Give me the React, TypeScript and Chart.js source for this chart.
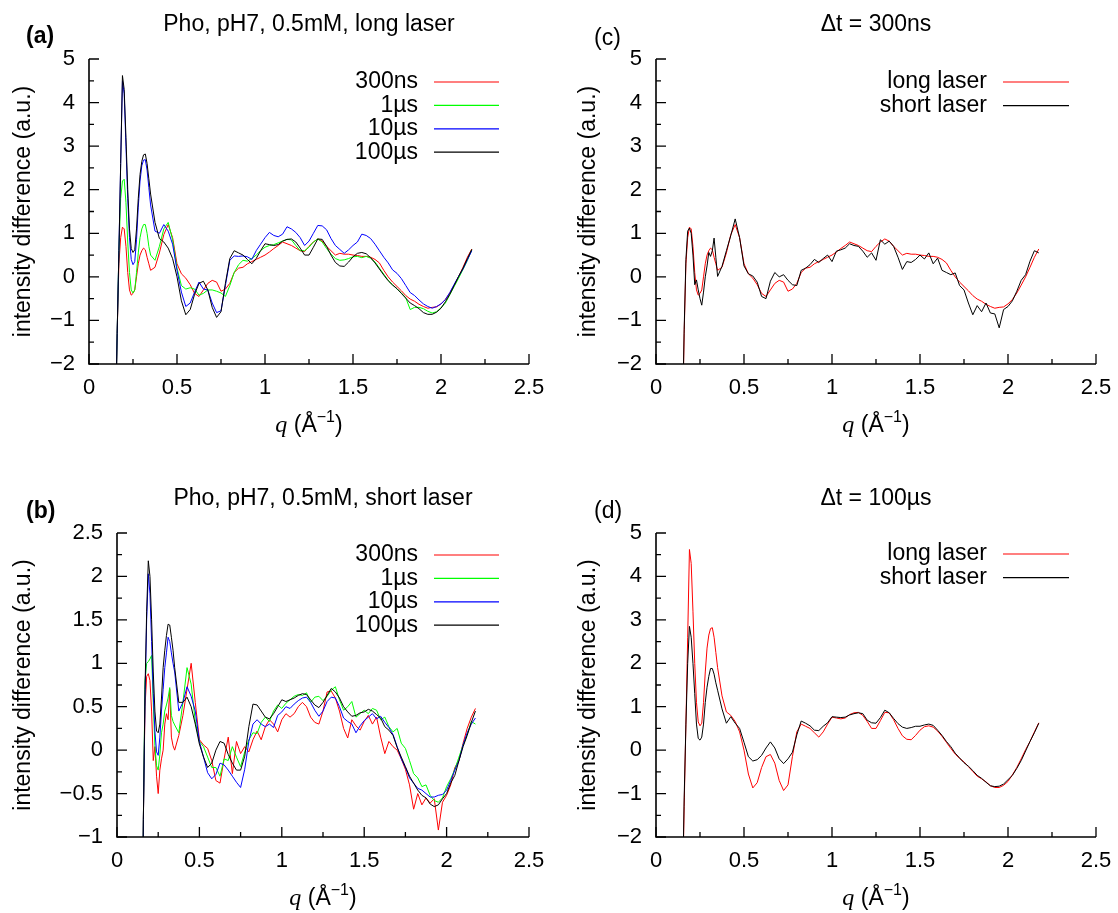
import React, { useEffect, useRef } from "react";
import { Chart, registerables } from "chart.js";

Chart.register(...registerables);

const W = 1118;
const H = 913;
const SANS = '"Liberation Sans", Arial, Helvetica, sans-serif';
const SERIF = '"Liberation Serif", "Times New Roman", serif';

// q values (Å^-1) shared by every series
const qValues = [
  0.15, 0.16, 0.17, 0.18, 0.19, 0.2, 0.21, 0.22, 0.23, 0.24,
  0.25, 0.26, 0.27, 0.28, 0.29, 0.3, 0.31, 0.32, 0.33, 0.34,
  0.35, 0.375, 0.4, 0.425, 0.45, 0.475, 0.5, 0.525, 0.55, 0.575,
  0.6, 0.625, 0.65, 0.675, 0.7, 0.725, 0.75, 0.775, 0.8, 0.825,
  0.85, 0.875, 0.9, 0.925, 0.95, 0.975, 1.0, 1.025, 1.05, 1.075,
  1.1, 1.125, 1.15, 1.175, 1.2, 1.225, 1.25, 1.275, 1.3, 1.325,
  1.35, 1.375, 1.4, 1.425, 1.45, 1.475, 1.5, 1.525, 1.55, 1.575,
  1.6, 1.625, 1.65, 1.675, 1.7, 1.725, 1.75, 1.775, 1.8, 1.825,
  1.85, 1.875, 1.9, 1.925, 1.95, 1.975, 2.0, 2.025, 2.05, 2.075,
  2.1, 2.125, 2.15, 2.175,
];

// (a) long laser
const long300ns = [
  -3.5, -1.3, 0.3, 0.9, 1.14, 1.1, 0.7, 0.1, -0.3, -0.42,
  -0.38, -0.3, 0.0, 0.3, 0.5, 0.6, 0.66, 0.62, 0.45, 0.3,
  0.15, 0.22, 0.55, 0.97, 1.2, 0.9, 0.3, 0.07, -0.03, -0.18,
  -0.38, -0.45, -0.3, -0.15, -0.08, -0.12, -0.33, -0.28, -0.15, 0.1,
  0.2, 0.22, 0.3, 0.35, 0.4, 0.45, 0.5, 0.57, 0.65, 0.72,
  0.8, 0.76, 0.72, 0.66, 0.6, 0.58, 0.7, 0.8, 0.87, 0.82,
  0.7, 0.6, 0.5, 0.54, 0.52, 0.52, 0.5, 0.49, 0.47, 0.47,
  0.45, 0.4, 0.32, 0.15, 0.0, -0.12, -0.22, -0.32, -0.43, -0.51,
  -0.56, -0.63, -0.68, -0.72, -0.7, -0.69, -0.62, -0.52, -0.37, -0.19,
  0.0, 0.22, 0.45, 0.64,
];
const long1us = [
  -3.5, -1.3, 0.6, 1.8, 2.2, 2.24, 1.7, 0.8, 0.1, -0.3,
  -0.37, -0.3, 0.1, 0.55, 0.9, 1.1, 1.2, 1.2, 1.0, 0.7,
  0.5, 0.38, 0.7, 1.1, 1.25, 0.85, 0.2, -0.2, -0.28, -0.25,
  -0.28, -0.42, -0.38, -0.3, -0.3, -0.33, -0.37, -0.45, -0.2, 0.1,
  0.28, 0.38, 0.36, 0.42, 0.5, 0.6, 0.68, 0.72, 0.74, 0.78,
  0.82, 0.86, 0.85, 0.72, 0.6, 0.6, 0.68, 0.8, 0.87, 0.8,
  0.65, 0.52, 0.42, 0.38, 0.39, 0.42, 0.46, 0.47, 0.44, 0.47,
  0.43, 0.34, 0.2, 0.06, -0.08, -0.18, -0.28, -0.37, -0.48, -0.75,
  -0.7, -0.7, -0.73, -0.79, -0.83, -0.8, -0.71, -0.6, -0.41, -0.22,
  -0.03, 0.17, 0.38, 0.62,
];
const long10us = [
  -3.5, -1.3, 0.6, 2.6, 4.5, 4.2, 3.0, 1.8, 0.9, 0.4,
  0.28, 0.35, 0.85, 1.6, 2.2, 2.55, 2.68, 2.69, 2.45, 2.05,
  1.65, 1.05, 1.0, 1.2, 1.05, 0.75, 0.15, -0.35, -0.68, -0.6,
  -0.35, -0.12, -0.28, -0.3, -0.6, -0.82, -0.78, -0.2, 0.38, 0.48,
  0.47, 0.48, 0.46, 0.4, 0.6, 0.75, 0.9, 1.02, 0.95, 0.92,
  0.98, 1.15, 1.1, 1.02, 0.9, 0.72, 0.82, 1.0, 1.18, 1.17,
  1.08, 0.88, 0.72, 0.63, 0.54, 0.62, 0.72, 0.8, 0.98, 0.95,
  0.88, 0.75, 0.6, 0.45, 0.32, 0.16, 0.08, -0.04, -0.2, -0.36,
  -0.43, -0.53, -0.62, -0.68, -0.72, -0.68, -0.62, -0.52, -0.36, -0.17,
  0.01, 0.18, 0.39, 0.6,
];
const long100us = [
  -3.5, -1.3, 0.6, 2.6, 4.62, 4.3, 3.2, 2.0, 1.1, 0.65,
  0.56, 0.62, 1.1, 1.8, 2.35, 2.65, 2.8, 2.82, 2.6, 2.25,
  1.9, 1.25, 0.88, 0.8, 0.66, 0.42, 0.0, -0.55, -0.87, -0.75,
  -0.4, -0.15, -0.1, -0.3, -0.7, -0.93, -0.8, -0.15, 0.42, 0.6,
  0.55, 0.5, 0.4, 0.3, 0.42, 0.6, 0.76, 0.74, 0.72, 0.74,
  0.82, 0.86, 0.87, 0.8, 0.66, 0.5, 0.5, 0.68, 0.87, 0.86,
  0.7, 0.5, 0.33, 0.25, 0.24, 0.34, 0.46, 0.54, 0.56, 0.53,
  0.44, 0.32, 0.18, 0.04, -0.09, -0.19, -0.27, -0.38, -0.49, -0.6,
  -0.66, -0.73, -0.82, -0.86, -0.86, -0.81, -0.72, -0.57, -0.4, -0.2,
  0.01, 0.2, 0.42, 0.63,
];

// (b) short laser
const short300ns = [
  -3, -0.8, 0.5, 0.85, 0.88, 0.8, 0.45, -0.12, 0.04, -0.3,
  -0.5, -0.23, -0.1, 0.0, 0.3, 0.42, 0.35, 0.7, 0.15, 0.05,
  0.0, 0.17, 0.4, 0.7, 1.0, 0.55, 0.12, 0.06, 0.02, -0.12,
  -0.35, -0.38, -0.1, 0.15, -0.27, 0.1, -0.04, 0.04, -0.02, 0.12,
  0.22, 0.12, 0.27, 0.35, 0.3, 0.21, 0.35, 0.42, 0.38, 0.42,
  0.5, 0.55, 0.5, 0.38, 0.32, 0.3, 0.45, 0.67, 0.68, 0.6,
  0.45, 0.25, 0.14, 0.35, 0.28, 0.23, 0.33, 0.4, 0.3, 0.38,
  0.15, -0.04, 0.1, 0.04, 0.0, -0.1, -0.22, -0.4, -0.68, -0.5,
  -0.63, -0.55, -0.61, -0.56, -0.92, -0.6, -0.52, -0.4, -0.2, -0.12,
  0.08, 0.25, 0.38, 0.48,
];
const short1us = [
  -3, -0.8, 0.8, 1.0, 1.02, 1.05, 1.09, 0.55, 0.05, -0.18,
  -0.23, -0.05, 0.2, 0.3, 0.45, 0.52, 0.6, 0.72, 0.4, 0.33,
  0.29, 0.2, 0.55, 0.95, 0.76, 0.33, 0.1, 0.04, -0.08, -0.2,
  -0.2, -0.3, -0.1, -0.12, 0.04, -0.08, -0.19, -0.02, 0.12, 0.2,
  0.19, 0.32, 0.38, 0.33, 0.45, 0.52, 0.48, 0.54, 0.58, 0.62,
  0.64, 0.63, 0.66, 0.55, 0.61, 0.62, 0.57, 0.62, 0.69, 0.73,
  0.58, 0.46, 0.5, 0.56, 0.38, 0.42, 0.46, 0.42, 0.48, 0.46,
  0.35, 0.38, 0.27, 0.21, 0.25, 0.08, 0.02, -0.12, -0.27, -0.32,
  -0.42, -0.4, -0.52, -0.58, -0.6, -0.55, -0.42, -0.33, -0.22, -0.08,
  0.06, 0.18, 0.33, 0.3,
];
const short10us = [
  -3, -0.8, 0.6, 1.5, 2.03, 1.8, 1.25, 0.65, 0.22, -0.02,
  -0.06, 0.15, 0.45, 0.7, 0.95, 1.12, 1.3, 1.25, 1.12, 1.0,
  0.9, 0.45, 0.55, 0.73, 0.62, 0.45, 0.1, -0.08, -0.26, -0.33,
  -0.28, -0.15, -0.17, -0.23, -0.3, -0.37, -0.43, -0.22, 0.1, 0.3,
  0.35, 0.3, 0.27, 0.3, 0.26, 0.4, 0.44, 0.5, 0.48, 0.53,
  0.57, 0.6, 0.61, 0.55, 0.46, 0.39, 0.45, 0.56, 0.61, 0.6,
  0.5, 0.37, 0.33, 0.3, 0.2, 0.28, 0.34, 0.38, 0.42, 0.36,
  0.39, 0.32, 0.26, 0.18, 0.04, -0.1, -0.2, -0.32, -0.38, -0.44,
  -0.46, -0.5, -0.54, -0.54, -0.52, -0.51, -0.46, -0.35, -0.23, -0.12,
  0.06, 0.2, 0.3, 0.37,
];
const short100us = [
  -3, -0.8, 0.7, 1.6, 2.18, 2.0, 1.5, 0.9, 0.45, 0.22,
  0.2, 0.3, 0.6, 0.95, 1.15, 1.32, 1.45, 1.44, 1.3, 1.15,
  0.95, 0.55, 0.55, 0.61, 0.5, 0.3, 0.07, -0.08, -0.2, -0.15,
  0.0, 0.1, 0.08, -0.05, -0.15, -0.23, -0.23, -0.07, 0.27, 0.53,
  0.52, 0.45, 0.38, 0.36, 0.42, 0.5, 0.58, 0.56, 0.58, 0.6,
  0.63, 0.65, 0.64, 0.58, 0.52, 0.49, 0.55, 0.63, 0.71, 0.67,
  0.6, 0.5, 0.44, 0.39, 0.4, 0.43, 0.44, 0.47, 0.45, 0.41,
  0.37, 0.27, 0.23, 0.17, 0.03, -0.08, -0.19, -0.3, -0.38, -0.46,
  -0.52, -0.55, -0.62, -0.65, -0.63, -0.56, -0.5, -0.38, -0.29, -0.12,
  0.04, 0.17, 0.32, 0.45,
];

// (c) Δt = 300ns, short laser (long laser curve is long300ns)
const compare300nsShort = [
  -3.5, -1.2, 0.4, 1.05, 1.12, 1.0, 0.5, -0.18, -0.07, -0.3,
  -0.5, -0.65, -0.35, 0.0, 0.25, 0.56, 0.47, 0.6, 0.89, 0.45,
  0.01, 0.24, 0.6, 0.95, 1.33, 0.9, 0.25, 0.07, 0.02, -0.12,
  -0.45, -0.5, -0.1, 0.1, 0.0, 0.05, -0.08, -0.18, -0.2, 0.15,
  0.2, 0.28, 0.4, 0.33, 0.42, 0.5, 0.35, 0.59, 0.62, 0.66,
  0.76, 0.72, 0.7, 0.59, 0.45, 0.55, 0.38, 0.85, 0.75, 0.82,
  0.7, 0.45, 0.17, 0.35, 0.33, 0.4, 0.5, 0.41, 0.55, 0.3,
  0.43, 0.15, 0.1, 0.05, 0.09, -0.2, -0.3, -0.6, -0.87, -0.66,
  -0.8, -0.6, -0.83, -0.85, -1.17, -0.75, -0.68, -0.55, -0.33, -0.08,
  0.05, 0.36, 0.6, 0.55,
];

// (d) Δt = 100µs, short laser (long laser curve is long100us)
const compare100usShort = [
  -3.5, -1.1, 0.6, 2.0, 2.85, 2.6, 2.0, 1.3, 0.6, 0.27,
  0.23, 0.3, 0.6, 1.1, 1.45, 1.7, 1.88, 1.88, 1.75, 1.55,
  1.38, 0.95, 0.62, 0.77, 0.62, 0.5, 0.18, -0.15, -0.25, -0.22,
  -0.12, 0.05, 0.19, 0.05, -0.2, -0.31, -0.2, -0.05, 0.35, 0.67,
  0.62, 0.56, 0.46, 0.45, 0.55, 0.63, 0.77, 0.76, 0.75, 0.76,
  0.81, 0.84, 0.86, 0.84, 0.69, 0.63, 0.62, 0.75, 0.92, 0.86,
  0.73, 0.61, 0.53, 0.5, 0.52, 0.55, 0.55, 0.58, 0.6, 0.57,
  0.46, 0.34, 0.2, 0.08, -0.07, -0.18, -0.29, -0.37, -0.47, -0.58,
  -0.65, -0.74, -0.82, -0.84, -0.83, -0.78, -0.68, -0.58, -0.42, -0.24,
  -0.02, 0.2, 0.4, 0.62,
];

// ticks
const xTickValues = [0, 0.5, 1, 1.5, 2, 2.5];
const xTickLabels = ["0", "0.5", "1", "1.5", "2", "2.5"];
const xMinorTicks = [0.25, 0.75, 1.25, 1.75, 2.25];
const yTicksWide = [-2, -1, 0, 1, 2, 3, 4, 5];
const yLabelsWide = ["\u22122", "\u22121", "0", "1", "2", "3", "4", "5"];
const yMinorWide = [-1.5, -0.5, 0.5, 1.5, 2.5, 3.5, 4.5];
const yTicksNarrow = [-1, -0.5, 0, 0.5, 1, 1.5, 2, 2.5];
const yLabelsNarrow = ["\u22121", "\u22120.5", "0", "0.5", "1", "1.5", "2", "2.5"];
const yMinorNarrow = [-0.75, -0.25, 0.25, 0.75, 1.25, 1.75, 2.25];

const timeLabels = ["300ns", "1\u00b5s", "10\u00b5s", "100\u00b5s"];
const laserLabels = ["long laser", "short laser"];
const timeColors = ["#ff0000", "#00ff00", "#0000ff", "#000000"];
const laserColors = ["#ff0000", "#000000"];
const yAxisTitle = "intensity difference (a.u.)";

type Panel = {
  key: string;
  area: { l: number; t: number; r: number; b: number };
  yMin: number;
  yMax: number;
  yTicks: number[];
  yLabels: string[];
  yMinor: number[];
  title: string;
  titleY: number;
  tag: string;
  tagBold: boolean;
  tagX: number;
  tagY: number;
  yTitleX: number;
  labels: string[];
  colors: string[];
  series: number[][];
  legend: { textRight: number; x0: number; x1: number; y0: number; dy: number };
};

const panels: Panel[] = [
  {
    key: "a",
    area: { l: 89, t: 59, r: 529, b: 364 },
    yMin: -2, yMax: 5, yTicks: yTicksWide, yLabels: yLabelsWide, yMinor: yMinorWide,
    title: "Pho, pH7, 0.5mM, long laser", titleY: 25,
    tag: "(a)", tagBold: true, tagX: 26, tagY: 37, yTitleX: 24,
    labels: timeLabels, colors: timeColors,
    series: [long300ns, long1us, long10us, long100us],
    legend: { textRight: 418, x0: 434, x1: 499, y0: 82, dy: 23.4 },
  },
  {
    key: "b",
    area: { l: 117, t: 533, r: 529, b: 837 },
    yMin: -1, yMax: 2.5, yTicks: yTicksNarrow, yLabels: yLabelsNarrow, yMinor: yMinorNarrow,
    title: "Pho, pH7, 0.5mM, short laser", titleY: 499,
    tag: "(b)", tagBold: true, tagX: 26, tagY: 512, yTitleX: 24,
    labels: timeLabels, colors: timeColors,
    series: [short300ns, short1us, short10us, short100us],
    legend: { textRight: 418, x0: 434, x1: 499, y0: 555, dy: 23.4 },
  },
  {
    key: "c",
    area: { l: 656, t: 59, r: 1096, b: 364 },
    yMin: -2, yMax: 5, yTicks: yTicksWide, yLabels: yLabelsWide, yMinor: yMinorWide,
    title: "\u0394t = 300ns", titleY: 25,
    tag: "(c)", tagBold: false, tagX: 594, tagY: 39, yTitleX: 589,
    labels: laserLabels, colors: laserColors,
    series: [long300ns, compare300nsShort],
    legend: { textRight: 987, x0: 1003, x1: 1069, y0: 82, dy: 23.6 },
  },
  {
    key: "d",
    area: { l: 656, t: 533, r: 1096, b: 837 },
    yMin: -2, yMax: 5, yTicks: yTicksWide, yLabels: yLabelsWide, yMinor: yMinorWide,
    title: "\u0394t = 100\u00b5s", titleY: 499,
    tag: "(d)", tagBold: false, tagX: 594, tagY: 512, yTitleX: 589,
    labels: laserLabels, colors: laserColors,
    series: [long100us, compare100usShort],
    legend: { textRight: 987, x0: 1003, x1: 1069, y0: 554, dy: 23.6 },
  },
];

function decorations(p: Panel) {
  return {
    id: "decor_" + p.key,
    afterDraw(chart: any) {
      const ctx: CanvasRenderingContext2D = chart.ctx;
      const xs = chart.scales.x;
      const ys = chart.scales.y;
      const ca = chart.chartArea;
      ctx.save();
      ctx.strokeStyle = "#000";
      ctx.fillStyle = "#000";

      // axis lines (left + bottom)
      ctx.lineWidth = 1.6;
      ctx.beginPath();
      ctx.moveTo(ca.left, ca.top);
      ctx.lineTo(ca.left, ca.bottom);
      ctx.lineTo(ca.right, ca.bottom);
      ctx.stroke();

      // inward tick marks
      ctx.lineWidth = 1.3;
      ctx.beginPath();
      p.yTicks.forEach((v) => {
        const y = ys.getPixelForValue(v);
        ctx.moveTo(ca.left, y);
        ctx.lineTo(ca.left + 10, y);
      });
      p.yMinor.forEach((v) => {
        const y = ys.getPixelForValue(v);
        ctx.moveTo(ca.left, y);
        ctx.lineTo(ca.left + 5, y);
      });
      xTickValues.forEach((v) => {
        const x = xs.getPixelForValue(v);
        ctx.moveTo(x, ca.bottom);
        ctx.lineTo(x, ca.bottom - 10);
      });
      xMinorTicks.forEach((v) => {
        const x = xs.getPixelForValue(v);
        ctx.moveTo(x, ca.bottom);
        ctx.lineTo(x, ca.bottom - 5);
      });
      ctx.stroke();

      // tick labels
      ctx.font = `22px ${SANS}`;
      ctx.textBaseline = "middle";
      ctx.textAlign = "right";
      p.yTicks.forEach((v, i) => ctx.fillText(p.yLabels[i], ca.left - 14, ys.getPixelForValue(v)));
      ctx.textAlign = "center";
      xTickValues.forEach((v, i) => ctx.fillText(xTickLabels[i], xs.getPixelForValue(v), ca.bottom + 24));

      // title
      const cx = (ca.left + ca.right) / 2;
      ctx.font = `23px ${SANS}`;
      ctx.fillText(p.title, cx, p.titleY);

      // panel tag
      ctx.textAlign = "left";
      ctx.font = `${p.tagBold ? "bold " : ""}23px ${SANS}`;
      ctx.fillText(p.tag, p.tagX, p.tagY);

      // y title
      ctx.save();
      ctx.translate(p.yTitleX, (ca.top + ca.bottom) / 2);
      ctx.rotate(-Math.PI / 2);
      ctx.textAlign = "center";
      ctx.font = `23px ${SANS}`;
      ctx.fillText(yAxisTitle, 0, 0);
      ctx.restore();

      // x title: q (Å^-1)
      const parts = [
        { t: "q", font: `italic 24px ${SERIF}`, dy: 0 },
        { t: " (\u00c5", font: `23px ${SANS}`, dy: 0 },
        { t: "\u22121", font: `16px ${SANS}`, dy: -10 },
        { t: ")", font: `23px ${SANS}`, dy: 0 },
      ];
      let total = 0;
      parts.forEach((pt) => {
        ctx.font = pt.font;
        total += ctx.measureText(pt.t).width;
      });
      let x = cx - total / 2;
      const base = ca.bottom + 68;
      ctx.textAlign = "left";
      ctx.textBaseline = "alphabetic";
      parts.forEach((pt) => {
        ctx.font = pt.font;
        ctx.fillText(pt.t, x, base + pt.dy);
        x += ctx.measureText(pt.t).width;
      });

      // legend
      ctx.textBaseline = "middle";
      ctx.textAlign = "right";
      ctx.font = `23px ${SANS}`;
      p.labels.forEach((lab, i) => {
        const y = p.legend.y0 + i * p.legend.dy;
        ctx.fillStyle = "#000";
        ctx.fillText(lab, p.legend.textRight, y);
        ctx.strokeStyle = p.colors[i];
        ctx.lineWidth = 1.2;
        ctx.beginPath();
        ctx.moveTo(p.legend.x0, y);
        ctx.lineTo(p.legend.x1, y);
        ctx.stroke();
      });
      ctx.restore();
    },
  };
}

function PanelChart({ p }: { p: Panel }) {
  const ref = useRef<HTMLCanvasElement>(null);
  useEffect(() => {
    const canvas = ref.current;
    if (!canvas) return;
    const n = p.series.length;
    const chart = new Chart(canvas, {
      type: "line",
      data: {
        datasets: p.series.map((vals, i) => ({
          label: p.labels[i],
          data: qValues.map((q, j) => ({ x: q, y: vals[j] })),
          borderColor: p.colors[i],
          backgroundColor: p.colors[i],
          borderWidth: 1,
          pointRadius: 0,
          fill: false,
          tension: 0,
          order: n - i,
        })),
      },
      options: {
        animation: false,
        responsive: false,
        devicePixelRatio: 1,
        events: [],
        layout: {
          padding: { left: p.area.l, top: p.area.t, right: W - p.area.r, bottom: H - p.area.b },
        },
        scales: {
          x: { type: "linear", min: 0, max: 2.5, display: false },
          y: { type: "linear", min: p.yMin, max: p.yMax, display: false },
        },
        plugins: {
          legend: { display: false },
          tooltip: { enabled: false },
          title: { display: false },
        },
      },
      plugins: [decorations(p)],
    } as any);
    return () => chart.destroy();
  }, [p]);
  return (
    <canvas
      ref={ref}
      width={W}
      height={H}
      style={{ position: "absolute", left: 0, top: 0, width: W, height: H }}
    />
  );
}

export default function App() {
  return (
    <div
      style={{
        position: "absolute",
        left: 0,
        top: 0,
        width: W,
        height: H,
        background: "#fff",
        overflow: "hidden",
      }}
    >
      {panels.map((p) => (
        <PanelChart key={p.key} p={p} />
      ))}
    </div>
  );
}
